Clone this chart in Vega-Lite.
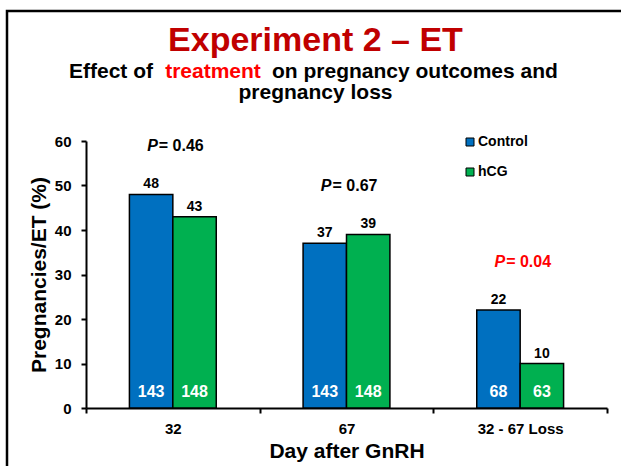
{
  "$schema": "https://vega.github.io/schema/vega-lite/v6.json",
  "autosize": {"type": "none"},
  "width": 521,
  "height": 267,
  "padding": {"left": 86, "top": 141, "right": 14, "bottom": 58},
  "background": "white",
  "title": {
    "text": "Experiment 2 – ET",
    "subtitle": "pregnancy loss",
    "color": "#C00000",
    "fontSize": 34,
    "fontWeight": "bold",
    "font": "Liberation Sans",
    "subtitleColor": "black",
    "subtitleFontSize": 21,
    "subtitleFontWeight": "bold",
    "subtitleFont": "Liberation Sans",
    "subtitleLineHeight": 22,
    "subtitlePadding": 24,
    "anchor": "middle",
    "frame": "group",
    "dx": -31,
    "offset": -93
  },
  "data": {
    "values": [
      {"day": "32", "group": "Control", "pct": 48, "n": 143, "p": 0.46},
      {"day": "32", "group": "hCG", "pct": 43, "n": 148, "p": 0.46},
      {"day": "67", "group": "Control", "pct": 37, "n": 143, "p": 0.67},
      {"day": "67", "group": "hCG", "pct": 39, "n": 148, "p": 0.67},
      {"day": "32 - 67 Loss", "group": "Control", "pct": 22, "n": 68, "p": 0.04},
      {"day": "32 - 67 Loss", "group": "hCG", "pct": 10, "n": 63, "p": 0.04}
    ]
  },
  "encoding": {
    "x": {
      "field": "day",
      "type": "nominal",
      "sort": ["32", "67", "32 - 67 Loss"],
      "scale": {"paddingInner": 0, "paddingOuter": 0},
      "axis": {
        "title": "Day after GnRH",
        "labelAngle": 0,
        "tickBand": "extent",
        "domainColor": "black",
        "domainWidth": 2,
        "tickColor": "black",
        "tickWidth": 2,
        "tickSize": 5,
        "labelPadding": 8,
        "labelFontSize": 15,
        "labelFontWeight": "bold",
        "labelColor": "black",
        "titleFontSize": 21,
        "titleFontWeight": "bold",
        "titleColor": "black",
        "titlePadding": 4
      }
    }
  },
  "layer": [
    {
      "mark": {"type": "bar", "stroke": "black", "strokeWidth": 1.5},
      "encoding": {
        "xOffset": {"field": "group", "type": "nominal", "scale": {"paddingInner": 0, "paddingOuter": 1}},
        "y": {
          "field": "pct",
          "type": "quantitative",
          "scale": {"domain": [0, 60]},
          "axis": {
            "title": "Pregnancies/ET (%)",
            "values": [0, 10, 20, 30, 40, 50, 60],
            "grid": false,
            "domainColor": "black",
            "domainWidth": 2,
            "tickColor": "black",
            "tickWidth": 2,
            "tickSize": 5,
            "labelPadding": 10,
            "labelFontSize": 15,
            "labelFontWeight": "bold",
            "labelColor": "black",
            "titleFontSize": 21,
            "titleFontWeight": "bold",
            "titleColor": "black",
            "titlePadding": 5
          }
        },
        "color": {
          "field": "group",
          "type": "nominal",
          "scale": {"domain": ["Control", "hCG"], "range": ["#0070C0", "#00B050"]},
          "legend": {
            "orient": "none",
            "legendX": 377,
            "legendY": -6,
            "title": null,
            "symbolType": "square",
            "symbolSize": 64,
            "symbolStrokeColor": "black",
            "symbolStrokeWidth": 1,
            "symbolOpacity": 1,
            "labelFontSize": 14,
            "labelFontWeight": "bold",
            "labelColor": "black",
            "labelOffset": 1,
            "rowPadding": 16
          }
        }
      }
    },
    {
      "mark": {"type": "text", "baseline": "alphabetic", "dy": -6, "fontSize": 14, "fontWeight": "bold", "color": "black"},
      "encoding": {
        "xOffset": {"field": "group", "type": "nominal", "scale": {"paddingInner": 0, "paddingOuter": 1}},
        "y": {"field": "pct", "type": "quantitative"},
        "text": {"field": "pct", "type": "quantitative"}
      }
    },
    {
      "mark": {"type": "text", "baseline": "alphabetic", "dy": -11, "fontSize": 16, "fontWeight": "bold", "color": "white"},
      "encoding": {
        "xOffset": {"field": "group", "type": "nominal", "scale": {"paddingInner": 0, "paddingOuter": 1}},
        "y": {"datum": 0, "type": "quantitative"},
        "text": {"field": "n", "type": "quantitative"}
      }
    },
    {
      "transform": [{"aggregate": [{"op": "max", "field": "pct", "as": "top"}], "groupby": ["day", "p"]}],
      "mark": {"type": "text", "text": "P", "align": "right", "baseline": "alphabetic", "dx": -15, "dy": -43, "fontSize": 16, "fontWeight": "bold", "fontStyle": "italic"},
      "encoding": {
        "y": {"field": "top", "type": "quantitative"},
        "color": {"condition": {"test": "datum.p < 0.05", "value": "#FF0000"}, "value": "black"}
      }
    },
    {
      "transform": [
        {"aggregate": [{"op": "max", "field": "pct", "as": "top"}], "groupby": ["day", "p"]},
        {"calculate": "'= ' + format(datum.p, '.2f')", "as": "plabel"}
      ],
      "mark": {"type": "text", "align": "left", "baseline": "alphabetic", "dx": -14, "dy": -43, "fontSize": 16, "fontWeight": "bold"},
      "encoding": {
        "y": {"field": "top", "type": "quantitative"},
        "text": {"field": "plabel"},
        "color": {"condition": {"test": "datum.p < 0.05", "value": "#FF0000"}, "value": "black"}
      }
    },
    {
      "data": {"values": [{"word": "Effect of"}]},
      "mark": {"type": "text", "align": "left", "baseline": "alphabetic", "fontSize": 21, "fontWeight": "bold", "color": "black"},
      "encoding": {
        "x": {"value": -17},
        "y": {"value": -63},
        "text": {"field": "word"}
      }
    },
    {
      "data": {"values": [{"word": "treatment"}]},
      "mark": {"type": "text", "align": "center", "baseline": "alphabetic", "fontSize": 21, "fontWeight": "bold", "color": "#FF0000"},
      "encoding": {
        "x": {"value": 127},
        "y": {"value": -63},
        "text": {"field": "word"}
      }
    },
    {
      "data": {"values": [{"word": "on pregnancy outcomes and"}]},
      "mark": {"type": "text", "align": "left", "baseline": "alphabetic", "fontSize": 21, "fontWeight": "bold", "color": "black"},
      "encoding": {
        "x": {"value": 186},
        "y": {"value": -63},
        "text": {"field": "word"}
      }
    },
    {
      "data": {"values": [{}]},
      "mark": {"type": "rect", "fill": null, "stroke": "black", "strokeWidth": 2.5},
      "encoding": {
        "x": {"value": -79},
        "x2": {"value": 545},
        "y": {"value": -130},
        "y2": {"value": 340}
      }
    }
  ],
  "config": {
    "font": "Liberation Sans",
    "view": {"stroke": null},
    "axis": {"labelFont": "Liberation Sans", "titleFont": "Liberation Sans"},
    "legend": {"labelFont": "Liberation Sans"}
  }
}
